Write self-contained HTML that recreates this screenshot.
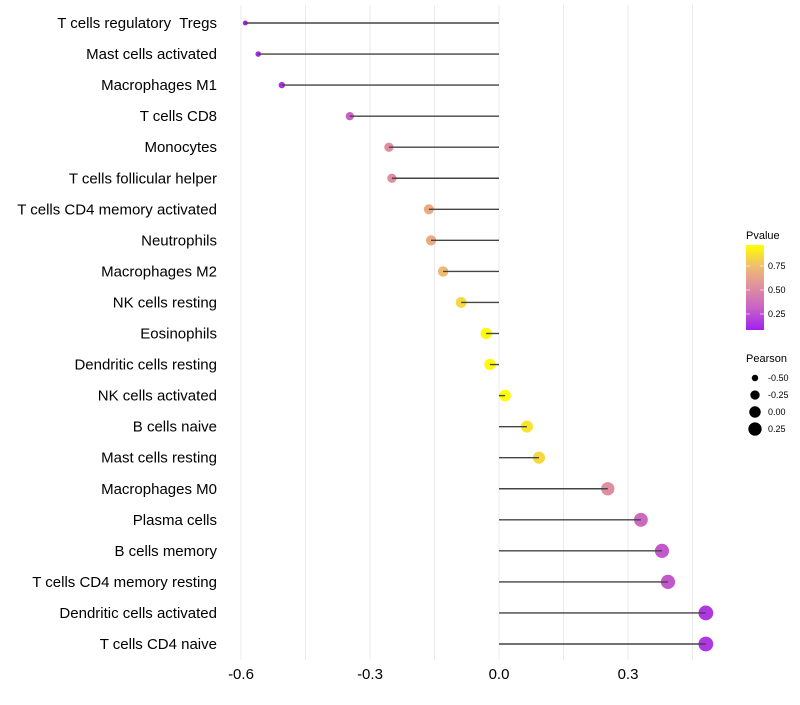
<!DOCTYPE html>
<html><head><meta charset="utf-8"><style>
body{margin:0;background:#fff;}
svg{font-family:"Liberation Sans",sans-serif;}
text{white-space:pre;}
</style></head><body>
<svg id="chart" width="800" height="700"></svg>
<script>
const categories=["T cells regulatory  Tregs","Mast cells activated","Macrophages M1","T cells CD8","Monocytes","T cells follicular helper","T cells CD4 memory activated","Neutrophils","Macrophages M2","NK cells resting","Eosinophils","Dendritic cells resting","NK cells activated","B cells naive","Mast cells resting","Macrophages M0","Plasma cells","B cells memory","T cells CD4 memory resting","Dendritic cells activated","T cells CD4 naive"];
const pearson=[-0.59,-0.56,-0.505,-0.347,-0.256,-0.249,-0.163,-0.158,-0.13,-0.088,-0.03,-0.021,0.014,0.065,0.093,0.253,0.33,0.379,0.393,0.481,0.481];
const pvalues=[0.02,0.04,0.06,0.26,0.5,0.5,0.66,0.66,0.74,0.85,0.98,0.98,1.0,0.9,0.86,0.5,0.3,0.22,0.22,0.09,0.09];
const xTicks=[-0.6,-0.3,0.0,0.3];
const xTickLabels=["-0.6","-0.3","0.0","0.3"];
const pTicks=[0.25,0.5,0.75];
const sizeLegend=[-0.5,-0.25,0,0.25];

const NS="http://www.w3.org/2000/svg";
const svg=document.getElementById('chart');
function el(t,a,p){const e=document.createElementNS(NS,t);for(const k in a)e.setAttribute(k,a[k]);(p||svg).appendChild(e);return e;}
const x=v=>499+430*v;
const y=i=>23+i*31.05;
const rad=v=>Math.sqrt(Math.max(3,33+45*v));
const stops=[[0,[160,32,240]],[0.25,[200,96,200]],[0.5,[222,142,160]],[0.75,[240,188,112]],[1,[255,255,0]]];
function col(p){for(let i=1;i<stops.length;i++){if(p<=stops[i][0]){const a=stops[i-1],b=stops[i];const t=(p-a[0])/(b[0]-a[0]);return 'rgb('+a[1].map((c,j)=>Math.round(c+(b[1][j]-c)*t)).join(',')+')';}}return 'rgb(255,255,0)';}
for(let v=-0.6;v<=0.46;v+=0.15){
  const g=el('line',{x1:x(v),x2:x(v),y1:5,y2:660,stroke:'#ebebeb','stroke-width':1});
  
  
}
xTicks.forEach((v,i)=>{
  const t=el('text',{x:x(v),y:679,'text-anchor':'middle','font-size':15,fill:'#000'});
  t.textContent=xTickLabels[i];
  
  
});
categories.forEach((c,i)=>{
  const t=el('text',{x:217,y:y(i)+5,'text-anchor':'end','font-size':15,fill:'#000'});
  t.textContent=c;
  
  
  const d=el('circle',{cx:x(pearson[i]),cy:y(i),r:rad(pearson[i]),fill:col(pvalues[i])});
  
  
  const s=el('line',{x1:x(0),x2:x(pearson[i]),y1:y(i),y2:y(i),stroke:'#444','stroke-width':1.4});
  
  
});
const lt=el('text',{x:746,y:239,'font-size':11});lt.textContent='Pvalue';


const defs=el('defs',{});
const lg=el('linearGradient',{id:'pg',x1:0,y1:1,x2:0,y2:0},defs);
stops.forEach(s=>el('stop',{offset:s[0],'stop-color':col(s[0])},lg));
const pb=el('rect',{x:746,y:245,width:18,height:85,fill:'url(#pg)'});


const py=p=>338-96*p;
pTicks.forEach(p=>{
  el('line',{x1:746,x2:750,y1:py(p),y2:py(p),stroke:'#fff','stroke-width':0.6});
  el('line',{x1:760,x2:764,y1:py(p),y2:py(p),stroke:'#fff','stroke-width':0.6});
  const t=el('text',{x:768,y:py(p)+3,'font-size':9});t.textContent=p.toFixed(2);
  
  
});
const st=el('text',{x:746,y:362,'font-size':11});st.textContent='Pearson';


sizeLegend.forEach((v,i)=>{
  const cy=378+i*17;
  const c=el('circle',{cx:755,cy:cy,r:rad(v),fill:'#000'});
  
  
  const t=el('text',{x:768,y:cy+3,'font-size':9});t.textContent=v.toFixed(2);
  
  
});
</script>
</body></html>
